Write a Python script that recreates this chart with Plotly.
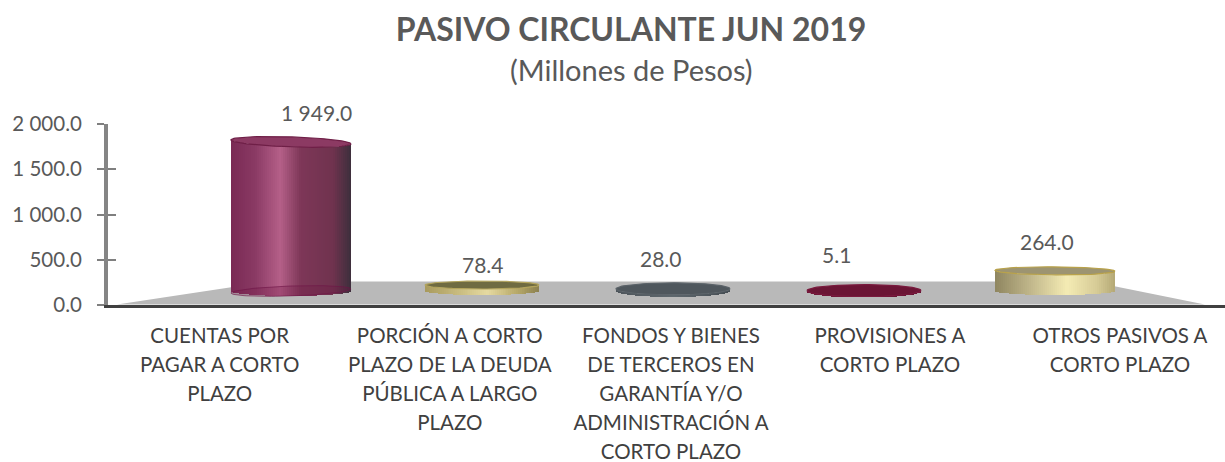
import numpy as np
import plotly.graph_objects as go

CATEGORY_LINES = [
    ["CUENTAS POR", "PAGAR A CORTO", "PLAZO"],
    ["PORCIÓN A CORTO", "PLAZO DE LA DEUDA", "PÚBLICA A LARGO", "PLAZO"],
    ["FONDOS Y BIENES", "DE TERCEROS EN", "GARANTÍA Y/O", "ADMINISTRACIÓN A", "CORTO PLAZO"],
    ["PROVISIONES A", "CORTO PLAZO"],
    ["OTROS PASIVOS A", "CORTO PLAZO"],
]
VALUES = [1949.0, 78.4, 28.0, 5.1, 264.0]
Y_TICKS = [0, 500, 1000, 1500, 2000]
TITLE = "PASIVO CIRCULANTE JUN 2019"
SUBTITLE = "(Millones de Pesos)"

# styling
FONT = "Lato"
GREY = "#595959"
W, H = 1225, 462
L, R, T, B = 108, 0, 124, 157
Y_PX_PER_UNIT = 0.0765
BASE_PX = 291
CENTER0, SPACING = 291, 191
HALF_W = [60, 57, 57, 57, 60]
CAP_H = [5, 4, 6, 6, 4]
TILT = [2, 0, 0, 0, 0.5]
TICK_SHIFT = [0.0, 0.03, 0.02, 0.0, 0.03]
LABEL_DX = [25, 1, -12, -28, -8]
LABEL_DY = [15, 6, 16, 22, 15]
GRADIENTS = [
    [(0, "#7a2a55"), (.2, "#8a3a64"), (.41, "#b56089"), (.58, "#7e3758"), (.85, "#70334f"), (1, "#3d2f3c")],
    [(0, "#a89a5c"), (.3, "#c9bc80"), (.55, "#e6daa2"), (.8, "#b9ab6b"), (1, "#8c8150")],
    [(0, "#4d555b"), (.5, "#5f686e"), (1, "#454d53")],
    [(0, "#6a1535"), (.5, "#751b3d"), (1, "#5f1230")],
    [(0, "#8f8660"), (.3, "#c2b88c"), (.6, "#f5ecb4"), (.85, "#d6cb96"), (1, "#b5a976")],
]
CAP_FILL = ["#8c3a63", "#6f6b42", "#4f575d", "#6b1535", "#9d9471"]
CAP_LINE = ["#6f1f47", "#b3a45c", "#5a6268", "#7a1a3e", "#b9a24a"]
BASE_ELLIPSE = ["rgba(110,20,70,0.28)", None, None, None, None]
N_STRIPS = 60
CAT_FONT_PX = 20.5
CAT_LINE_BASE_PX = 22.3


def hex2rgb(c):
    return np.array([int(c[i:i + 2], 16) for i in (1, 3, 5)], float)


def ramp(stops, u):
    p = [s[0] for s in stops]
    cols = np.array([hex2rgb(s[1]) for s in stops])
    return "rgb(%d,%d,%d)" % tuple(np.interp(u, p, cols[:, k]) for k in range(3))


def cat_label(lines):
    return "<br>".join(f'<span style="font-size:{CAT_FONT_PX}px">{s}</span>' for s in lines)


fig = go.Figure()

fig.add_trace(go.Scatter(x=[0, 4], y=[0, 0], mode="markers", marker=dict(opacity=0),
                         hoverinfo="skip", showlegend=False))

annotations = []
strip_w = 2.0 / N_STRIPS
a = np.linspace(0, 2 * np.pi, 90)
for i, (val, hw, ch, tilt) in enumerate(zip(VALUES, HALF_W, CAP_H, TILT)):
    hw_x = hw / SPACING
    ch_y = ch / Y_PX_PER_UNIT
    tilt_y = tilt / Y_PX_PER_UNIT
    t = -1 + strip_w * (np.arange(N_STRIPS) + 0.5)
    curve = -ch_y * np.sqrt(1 - t ** 2)
    bx = i + t * hw_x
    tops = val + curve - t * tilt_y
    fig.add_trace(go.Bar(
        x=bx, y=tops - curve, base=curve, width=strip_w * hw_x * 1.25,
        marker=dict(color=[ramp(GRADIENTS[i], (u + 1) / 2) for u in t], line_width=0),
        xaxis="x2", yaxis="y2", hoverinfo="skip", showlegend=False))
    if BASE_ELLIPSE[i]:
        fig.add_trace(go.Scatter(
            x=i + hw_x * np.cos(a), y=ch_y * np.sin(a) + np.cos(a) * tilt_y,
            mode="lines", fill="toself", fillcolor=BASE_ELLIPSE[i],
            line=dict(color="rgba(110,20,70,0.6)", width=1),
            xaxis="x2", yaxis="y2", hoverinfo="skip", showlegend=False))
    fig.add_trace(go.Scatter(
        x=i + hw_x * np.cos(a), y=val + ch_y * np.sin(a) - np.cos(a) * tilt_y,
        mode="lines", fill="toself", fillcolor=CAP_FILL[i],
        line=dict(color=CAP_LINE[i], width=1.2),
        xaxis="x2", yaxis="y2", hoverinfo="skip", showlegend=False))
    annotations.append(dict(
        x=i, y=val, xref="x2", yref="y2", text=f"{val:,.1f}".replace(",", " "),
        showarrow=False, xshift=LABEL_DX[i], yshift=LABEL_DY[i],
        yanchor="bottom", font=dict(family=FONT, size=21, color=GREY)))

fig.add_trace(go.Scatter(x=[0], y=[0], xaxis="x", yaxis="y3", mode="markers",
                         marker=dict(opacity=0), hoverinfo="skip", showlegend=False))

annotations.append(dict(
    text=SUBTITLE, x=(631 - L) / (W - L - R), y=(H - B - 69) / (H - T - B),
    xref="paper", yref="paper", showarrow=False, yanchor="middle",
    font=dict(family=FONT, size=29, color=GREY)))

fig.update_layout(
    width=W, height=H, autosize=False,
    paper_bgcolor="white", plot_bgcolor="white",
    margin=dict(l=L, r=R, t=T, b=B, pad=0, autoexpand=False),
    barmode="overlay", bargap=0, separators=". ",
    font=dict(family=FONT, color=GREY),
    title=dict(text=f"<b>{TITLE}</b>", x=631 / W, xanchor="center",
               y=1 - 30 / H, yanchor="middle", automargin=False,
               font=dict(family=FONT, size=32, color=GREY)),
    xaxis=dict(range=[-0.5, 4.5], tickmode="array", automargin=False,
               tickvals=[i + s for i, s in enumerate(TICK_SHIFT)],
               ticktext=[cat_label(c) for c in CATEGORY_LINES],
               ticks="outside", ticklen=8, tickcolor="rgba(0,0,0,0)", showgrid=False,
               zeroline=False, showline=True, linecolor="#404040", linewidth=3,
               tickfont=dict(family=FONT, size=CAT_LINE_BASE_PX, color="#404040"), tickangle=0),
    yaxis=dict(range=[0, 2000], tickmode="array", tickvals=Y_TICKS, tickformat=",.1f",
               automargin=False,
               ticks="outside", ticklen=7, tickwidth=1.5, tickcolor="#7f7f7f",
               showgrid=False, zeroline=False, showline=True, linecolor="#858585",
               linewidth=4, ticklabelstandoff=11,
               tickfont=dict(family=FONT, size=20.5, color=GREY)),
    yaxis3=dict(range=[0, 2000], overlaying="y", anchor="x", side="left", automargin=False,
                tickmode="array", tickvals=Y_TICKS, ticks="inside", ticklen=8,
                tickwidth=1.5, tickcolor="#7f7f7f", showticklabels=False,
                showgrid=False, zeroline=False),
    xaxis2=dict(range=[(L - CENTER0) / SPACING, (W - R - CENTER0) / SPACING],
                overlaying="x", anchor="y2", visible=False, automargin=False),
    yaxis2=dict(range=[-(H - B - BASE_PX) / Y_PX_PER_UNIT, (BASE_PX - T) / Y_PX_PER_UNIT],
                overlaying="y", anchor="x2", visible=False, automargin=False),
    annotations=annotations,
    shapes=[dict(type="path", xref="paper", yref="paper", layer="below",
                 path="M 0.008 0.003 L 0.145 0.13 L 0.88 0.13 L 0.982 0.003 Z",
                 fillcolor="#b9b9b9", line_width=0)],
)
fig.write_html("out.html", config={"displayModeBar": False},
               post_script="document.body.style.margin='0';")
